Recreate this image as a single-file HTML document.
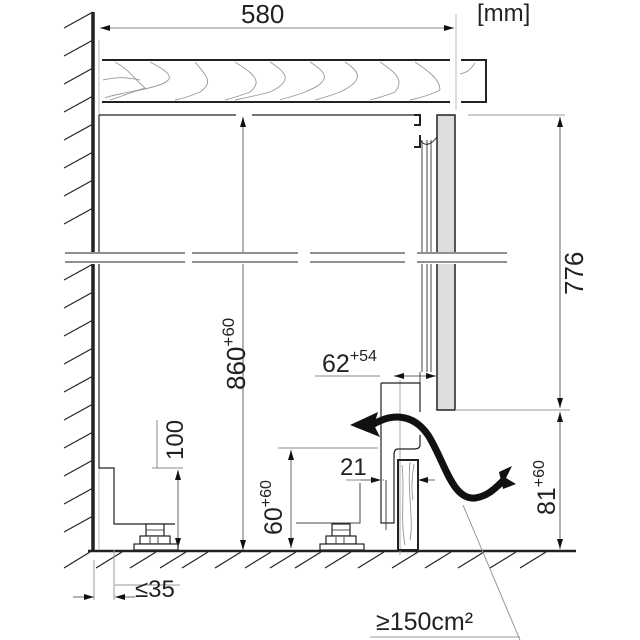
<!DOCTYPE html>
<html><head><style>body{margin:0;background:#fff}svg{display:block}text{font-family:"Liberation Sans",sans-serif;fill:#222}</style></head>
<body>
<svg width="640" height="640" viewBox="0 0 640 640" xmlns="http://www.w3.org/2000/svg">
<defs>
<marker id="a" viewBox="0 0 10 6" refX="10" refY="3" markerWidth="10" markerHeight="6" orient="auto-start-reverse" markerUnits="userSpaceOnUse"><path d="M0,0L10,3L0,6z" fill="#111"/></marker>
</defs>
<g stroke="#222" stroke-width="1" fill="none">
<g stroke-width="1.2">
<path d="M64,28L93,12M64,56L93,40M64,84L93,68M64,112L93,96M64,140L93,124M64,168L93,152M64,196L93,180M64,224L93,208M64,280L93,264M64,308L93,292M64,336L93,320M64,364L93,348M64,392L93,376M64,420L93,404M64,448L93,432M64,476L93,460M64,504L93,488M64,532L93,516"/>
<path d="M64,568L90,552M96,568L122,552M130,568L156,552M160,568L186,552M182,568L208,552M215,568L241,552M245,568L271,552M270,568L296,552M295,568L321,552M325,568L351,552M358,568L384,552M392,568L418,552M425,568L451,552M458,568L484,552M490,568L516,552M520,568L546,552"/>
</g>
<path d="M93,12V550" stroke-width="3.5"/>
<path d="M88,551H576" stroke-width="2.5"/>
<path d="M100,28H454" stroke="#888" marker-start="url(#a)" marker-end="url(#a)"/>
<path d="M456,14V110" stroke="#bbb"/>
<path d="M99,40V550" stroke="#bbb"/>
<path d="M102,60H450M102,102H450" stroke-width="2"/>
<path d="M461,60H486V102H461" stroke-width="2"/>
<g stroke="#999" stroke-width="0.9">
<path d="M115,62C130,70 135,80 145,88C130,93 110,95 105,98"/>
<path d="M150,62C175,75 180,82 140,90C125,94 118,98 110,100"/>
<path d="M195,62C205,75 215,82 200,92C190,96 185,98 175,100"/>
<path d="M235,62C250,72 265,80 250,92C240,96 232,98 225,100"/>
<path d="M270,62C285,72 295,80 270,92C255,96 245,98 235,100"/>
<path d="M310,62C325,72 335,80 305,92C295,96 285,98 280,100"/>
<path d="M345,62C360,72 365,80 340,92C330,96 322,98 315,100"/>
<path d="M380,62C395,72 405,80 395,92C385,96 378,98 370,100"/>
<path d="M415,62C430,72 440,80 440,90C430,95 420,98 410,100"/>
<path d="M475,63C470,70 468,72 460,74"/>
<path d="M103,80C120,76 130,78 140,80"/>
</g>
<path d="M99,115H236M252,115H415" stroke-width="1.2"/>
<path d="M414,115H420V125H414M420,135V147H414" stroke-width="2"/>
<path d="M99,115V468H114V524H175" stroke-width="1.2"/>
<path d="M243,117V550" stroke="#666" marker-start="url(#a)" marker-end="url(#a)"/>
<rect x="437" y="115" width="18" height="295" fill="#ddd" stroke-width="1.5"/>
<path d="M422,140V372M427,140V372M431,140V372" stroke="#444"/>
<path d="M420,140Q427,150 437,137"/>
<g fill="#fff" stroke="none"><rect x="60" y="252" width="450" height="12"/></g>
<path d="M65,253H185M192,253H298M310,253H405M417,253H507M65,262H185M192,262H298M310,262H405M417,262H507"/>
<path d="M468,115H565M455,410H570" stroke="#999"/>
<path d="M560,117V408" stroke="#666" marker-start="url(#a)" marker-end="url(#a)"/>
<path d="M560,412V549" stroke="#666" marker-start="url(#a)" marker-end="url(#a)"/>
<path d="M315,376H380" stroke="#888"/>
<path d="M394,376H420" stroke="#666" marker-start="url(#a)"/>
<path d="M420,376H436" stroke="#666" marker-end="url(#a)"/>
<path d="M420,372V412" stroke="#444"/>
<path d="M400,380V555" stroke="#aaa"/>
<path d="M381,383H420V412M420,435V445Q420,449 414,449H398Q394,449 394,455V523H381V383" stroke-width="1.2"/>
<rect x="398" y="460" width="20" height="90" stroke-width="2"/>
<path d="M402,465C405,490 400,520 405,545M410,462C407,490 414,520 410,540M414,464C412,475 411,490 413,500" stroke="#888" stroke-width="0.8"/>
<path d="M346,480H384" stroke="#888"/>
<path d="M360,480H381" stroke="#666" marker-end="url(#a)"/>
<path d="M435,480H418" stroke="#666" marker-end="url(#a)"/>
<path d="M386,480V530" stroke="#444"/>
<path d="M278,448H378" stroke="#888"/>
<path d="M296,523H360V483" stroke="#444"/>
<path d="M291,450V548" stroke="#666" marker-start="url(#a)" marker-end="url(#a)"/>
<path d="M152,468H183M157,420V468" stroke="#888"/>
<path d="M178,470V548" stroke="#666" marker-start="url(#a)" marker-end="url(#a)"/>
<g stroke-width="1.2" fill="#fff">
<rect x="146" y="524" width="18" height="12"/><rect x="140" y="536" width="30" height="8"/><rect x="134" y="544" width="44" height="6"/>
<rect x="332" y="524" width="18" height="12"/><rect x="326" y="536" width="30" height="8"/><rect x="320" y="544" width="44" height="6"/>
</g>
<path d="M146,530H164M332,530H350M150,537V544M158,537V544M336,537V544M344,537V544" stroke-width="0.8"/>
<path d="M114,550V600M115,585H180" stroke="#999"/>
<path d="M73,597H94" stroke="#666" marker-end="url(#a)"/>
<path d="M135,597H115" stroke="#666" marker-end="url(#a)"/>
<path d="M94,560V600" stroke="#999"/>
<path d="M463,505L520,640M370,637H520" stroke="#999"/>
</g>
<path d="M372,425C390,414 412,412 428,435C445,462 452,500 475,498C490,496 498,485 506,478" stroke="#111" stroke-width="7" fill="none"/>
<path d="M350,425L378,412L374,425L380,437Z" fill="#111"/>
<path d="M499,472L512,466L506,478L516,484L503,489Z" fill="#111"/>
<text x="241" y="23" font-size="26">580</text>
<text x="477" y="21" font-size="24">[mm]</text>
<text x="322" y="372" font-size="25">62<tspan font-size="16" dy="-11">+54</tspan></text>
<text x="340" y="475" font-size="24">21</text>
<text x="376" y="630" font-size="25">≥150cm²</text>
<text x="135" y="597" font-size="24">≤35</text>
<text font-size="26" transform="translate(245,390) rotate(-90)">860<tspan font-size="17" dy="-11">+60</tspan></text>
<text font-size="24" transform="translate(183,460) rotate(-90)">100</text>
<text font-size="25" transform="translate(282,535) rotate(-90)">60<tspan font-size="16" dy="-11">+60</tspan></text>
<text font-size="25" transform="translate(555,515) rotate(-90)">81<tspan font-size="16" dy="-11">+60</tspan></text>
<text font-size="26" transform="translate(583,295) rotate(-90)">776</text>
</svg>
</body></html>
